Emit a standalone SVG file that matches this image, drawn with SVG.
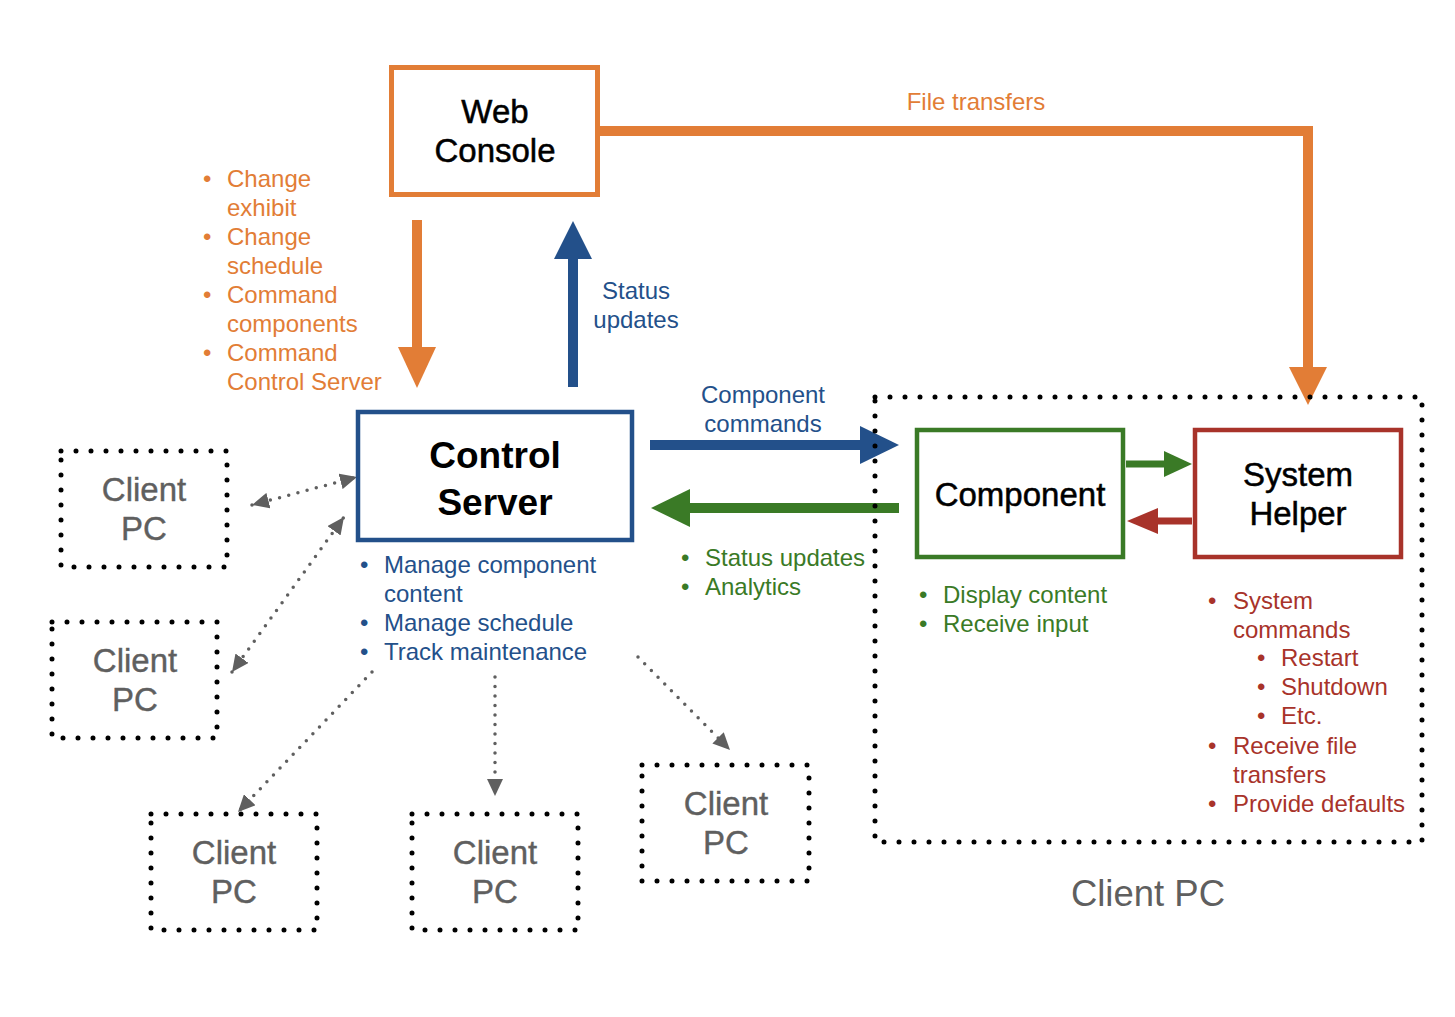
<svg xmlns="http://www.w3.org/2000/svg" width="1455" height="1017" viewBox="0 0 1455 1017">
<style>
text{font-family:"Liberation Sans",Arial,Helvetica,sans-serif}
.t{font-size:33px;fill:#000;stroke:#000;stroke-width:0.5;text-anchor:middle}
.cs{font-size:37px;font-weight:bold;fill:#000;text-anchor:middle}
.cl{font-size:33px;fill:#5f5f5f;stroke:#5f5f5f;stroke-width:0.4;text-anchor:middle}
.dots{fill:none;stroke:#000;stroke-width:5;stroke-linecap:round;stroke-dasharray:0 15}
.gd{fill:none;stroke:#5f5f5f;stroke-width:3.5;stroke-linecap:round;stroke-dasharray:0 9.5}
.l{font-size:24px}
.or{fill:#E27D36}
.bl{fill:#23508A}
.gr{fill:#3A7A26}
.rd{fill:#A8332A}
</style>
<defs>
<marker id="ga" markerUnits="userSpaceOnUse" markerWidth="18" markerHeight="16" refX="17" refY="8" orient="auto-start-reverse" viewBox="0 0 18 16">
<path d="M0,0 L17,8 L0,16 z" fill="#5f5f5f"/>
</marker>
</defs>
<rect width="1455" height="1017" fill="#fff"/>

<g id="connectors">
<line x1="417" y1="220" x2="417" y2="350" stroke="#E27D36" stroke-width="10"/>
<polygon points="398,347 436,347 417,388" fill="#E27D36"/>
<line x1="573" y1="387" x2="573" y2="255" stroke="#23508A" stroke-width="10"/>
<polygon points="554,259 592,259 573,221" fill="#23508A"/>
<polyline points="598,131 1308,131 1308,370" fill="none" stroke="#E27D36" stroke-width="10"/>
<polygon points="1289,367 1327,367 1308,405" fill="#E27D36"/>
<line x1="650" y1="445" x2="862" y2="445" stroke="#23508A" stroke-width="10"/>
<polygon points="860,426 860,464 899,445" fill="#23508A"/>
<line x1="899" y1="508" x2="688" y2="508" stroke="#3A7A26" stroke-width="10"/>
<polygon points="690,489 690,527 651,508" fill="#3A7A26"/>
<line x1="1126" y1="464" x2="1166" y2="464" stroke="#3A7A26" stroke-width="7"/>
<polygon points="1164,451 1164,477 1192,464" fill="#3A7A26"/>
<line x1="1192" y1="521" x2="1156" y2="521" stroke="#A8332A" stroke-width="7"/>
<polygon points="1158,508 1158,534 1127,521" fill="#A8332A"/>
<line class="gd" x1="252" y1="505" x2="357" y2="477" marker-start="url(#ga)" marker-end="url(#ga)"/>
<line class="gd" x1="232" y1="672" x2="344" y2="517" marker-start="url(#ga)" marker-end="url(#ga)"/>
<line class="gd" x1="372" y1="672" x2="238" y2="812" marker-end="url(#ga)"/>
<line class="gd" x1="495" y1="677" x2="495" y2="796" marker-end="url(#ga)"/>
<line class="gd" x1="638" y1="657" x2="730" y2="750" marker-end="url(#ga)"/>
<text class="l or" x="976" y="110" text-anchor="middle">File transfers</text>
<text class="l bl" x="636" y="299" text-anchor="middle">Status</text>
<text class="l bl" x="636" y="328" text-anchor="middle">updates</text>
<text class="l bl" x="763" y="403" text-anchor="middle">Component</text>
<text class="l bl" x="763" y="432" text-anchor="middle">commands</text>
<g class="l or">
<text x="203" y="187">•</text><text x="227" y="187">Change</text>
<text x="227" y="216">exhibit</text>
<text x="203" y="245">•</text><text x="227" y="245">Change</text>
<text x="227" y="274">schedule</text>
<text x="203" y="303">•</text><text x="227" y="303">Command</text>
<text x="227" y="332">components</text>
<text x="203" y="361">•</text><text x="227" y="361">Command</text>
<text x="227" y="390">Control Server</text>
</g>
<g class="l gr">
<text x="681" y="566">•</text><text x="705" y="566">Status updates</text>
<text x="681" y="595">•</text><text x="705" y="595">Analytics</text>
</g>
</g>

<g id="client-pc-group">
<rect class="dots" x="875" y="397" width="547" height="445"/>
<text x="1148" y="906" font-size="36.5" fill="#5f5f5f" text-anchor="middle">Client PC</text>
</g>

<g id="web-console">
<rect x="391.5" y="67.5" width="206" height="127" fill="#fff" stroke="#E27D36" stroke-width="5"/>
<text class="t" x="495" y="123">Web</text>
<text class="t" x="495" y="162">Console</text>
</g>

<g id="control-server">
<rect x="358" y="412" width="274" height="128" fill="#fff" stroke="#23508A" stroke-width="4.5"/>
<text class="cs" x="495" y="468">Control</text>
<text class="cs" x="495" y="515">Server</text>
<g class="l bl">
<text x="360" y="573">•</text><text x="384" y="573">Manage component</text>
<text x="384" y="602">content</text>
<text x="360" y="631">•</text><text x="384" y="631">Manage schedule</text>
<text x="360" y="660">•</text><text x="384" y="660">Track maintenance</text>
</g>
</g>

<g id="component">
<rect x="917" y="430" width="206" height="127" fill="#fff" stroke="#3A7A26" stroke-width="4.5"/>
<text class="t" x="1020" y="506">Component</text>
<g class="l gr">
<text x="919" y="603">•</text><text x="943" y="603">Display content</text>
<text x="919" y="632">•</text><text x="943" y="632">Receive input</text>
</g>
</g>

<g id="system-helper">
<rect x="1195" y="430" width="206" height="127" fill="#fff" stroke="#A8332A" stroke-width="4.5"/>
<text class="t" x="1298" y="486">System</text>
<text class="t" x="1298" y="525">Helper</text>
<g class="l rd">
<text x="1208" y="609">•</text><text x="1233" y="609">System</text>
<text x="1233" y="638">commands</text>
<text x="1257" y="666">•</text><text x="1281" y="666">Restart</text>
<text x="1257" y="695">•</text><text x="1281" y="695">Shutdown</text>
<text x="1257" y="724">•</text><text x="1281" y="724">Etc.</text>
<text x="1208" y="754">•</text><text x="1233" y="754">Receive file</text>
<text x="1233" y="783">transfers</text>
<text x="1208" y="812">•</text><text x="1233" y="812">Provide defaults</text>
</g>
</g>

<g id="client-pc-1">
<rect class="dots" x="61" y="451" width="166" height="116"/>
<text class="cl" x="144" y="501">Client</text>
<text class="cl" x="144" y="540">PC</text>
</g>
<g id="client-pc-2">
<rect class="dots" x="52" y="622" width="165" height="116"/>
<text class="cl" x="135" y="672">Client</text>
<text class="cl" x="135" y="711">PC</text>
</g>
<g id="client-pc-3">
<rect class="dots" x="151" y="814" width="166" height="116"/>
<text class="cl" x="234" y="864">Client</text>
<text class="cl" x="234" y="903">PC</text>
</g>
<g id="client-pc-4">
<rect class="dots" x="412" y="814" width="166" height="116"/>
<text class="cl" x="495" y="864">Client</text>
<text class="cl" x="495" y="903">PC</text>
</g>
<g id="client-pc-5">
<rect class="dots" x="642" y="765" width="167" height="116"/>
<text class="cl" x="726" y="815">Client</text>
<text class="cl" x="726" y="854">PC</text>
</g>
</svg>
